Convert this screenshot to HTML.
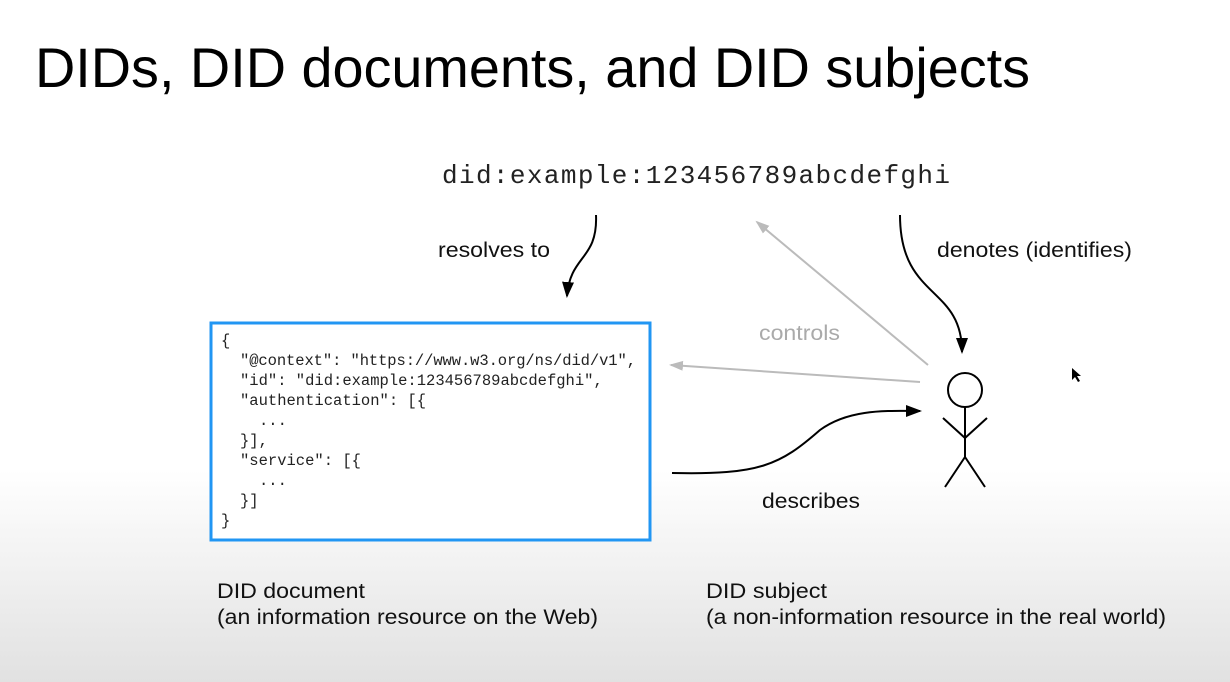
<!DOCTYPE html>
<html><head><meta charset="utf-8"><style>
html,body{margin:0;padding:0;}
body{width:1230px;height:682px;overflow:hidden;background:linear-gradient(#fff 0,#fff 470px,#e1e1e1 682px);}
svg{display:block}
.c{white-space:pre}
</style></head><body>
<svg width="1230" height="682" viewBox="0 0 1230 682" xmlns="http://www.w3.org/2000/svg">
<defs>
<marker id="abig" markerWidth="16" markerHeight="16" refX="14" refY="8" orient="auto" markerUnits="userSpaceOnUse"><path d="M0,2 L16,8 L0,14 Z" fill="#000"/></marker>
<marker id="ag" markerWidth="14" markerHeight="14" refX="12" refY="7" orient="auto" markerUnits="userSpaceOnUse"><path d="M0,2 L14,7 L0,12 Z" fill="#bbb"/></marker>
</defs>
<text x="35" y="87" font-family="Liberation Sans, sans-serif" font-size="56" textLength="995" lengthAdjust="spacingAndGlyphs" fill="#000">DIDs, DID documents, and DID subjects</text>
<text x="442" y="183" font-family="Liberation Mono, monospace" font-size="26" textLength="508" fill="#222">did:example:123456789abcdefghi</text>
<g font-family="Liberation Sans, sans-serif" font-size="21" fill="#111" lengthAdjust="spacingAndGlyphs">
<text x="438" y="257" textLength="112" lengthAdjust="spacingAndGlyphs">resolves to</text>
<text x="937" y="257" textLength="195" lengthAdjust="spacingAndGlyphs">denotes (identifies)</text>
<text x="759" y="340" fill="#aaa" textLength="81" lengthAdjust="spacingAndGlyphs">controls</text>
<text x="762" y="508" textLength="98" lengthAdjust="spacingAndGlyphs">describes</text>
<text x="217" y="598" textLength="148" lengthAdjust="spacingAndGlyphs">DID document</text>
<text x="217" y="624" textLength="381" lengthAdjust="spacingAndGlyphs">(an information resource on the Web)</text>
<text x="706" y="598" textLength="121" lengthAdjust="spacingAndGlyphs">DID subject</text>
<text x="706" y="624" textLength="460" lengthAdjust="spacingAndGlyphs">(a non-information resource in the real world)</text>
</g>
<rect x="211" y="323" width="439" height="217" fill="#fff" stroke="#2196f3" stroke-width="3"/>
<g font-family="Liberation Mono, monospace" font-size="15.5" fill="#222">
<text x="221" y="345">{</text>
<text x="240" y="365" textLength="396">"@context": "https://www.w3.org/ns/did/v1",</text>
<text x="240" y="385">"id": "did:example:123456789abcdefghi",</text>
<text x="240" y="405">"authentication": [{</text>
<text x="259" y="425">...</text>
<text x="240" y="445">}],</text>
<text x="240" y="465">"service": [{</text>
<text x="259" y="485">...</text>
<text x="240" y="505">}]</text>
<text x="221" y="525">}</text>
</g>
<g fill="none" stroke-width="2">
<path d="M596,215 C598,260 570,255 567,296" stroke="#000" marker-end="url(#abig)"/>
<path d="M900,215 C900,300 962,285 962,352" stroke="#000" marker-end="url(#abig)"/>
<path d="M928,365 L757,222" stroke="#bbb" marker-end="url(#ag)"/>
<path d="M920,382 L671,365" stroke="#bbb" marker-end="url(#ag)"/>
<path d="M672,473 C760,475 780,465 820,430 C850,408 890,411 920,411" stroke="#000" marker-end="url(#abig)"/>
</g>
<g fill="none" stroke="#000" stroke-width="2">
<circle cx="965" cy="390" r="17"/>
<path d="M965,407 L965,457 M943,418 L965,438 L987,418 M965,457 L945,487 M965,457 L985,487"/>
</g>
<path d="M1072,368 l0,12 l3,-3 l3,5 l2,-1 l-3,-5 l4,0 Z" fill="#000"/>
</svg>
</body></html>
